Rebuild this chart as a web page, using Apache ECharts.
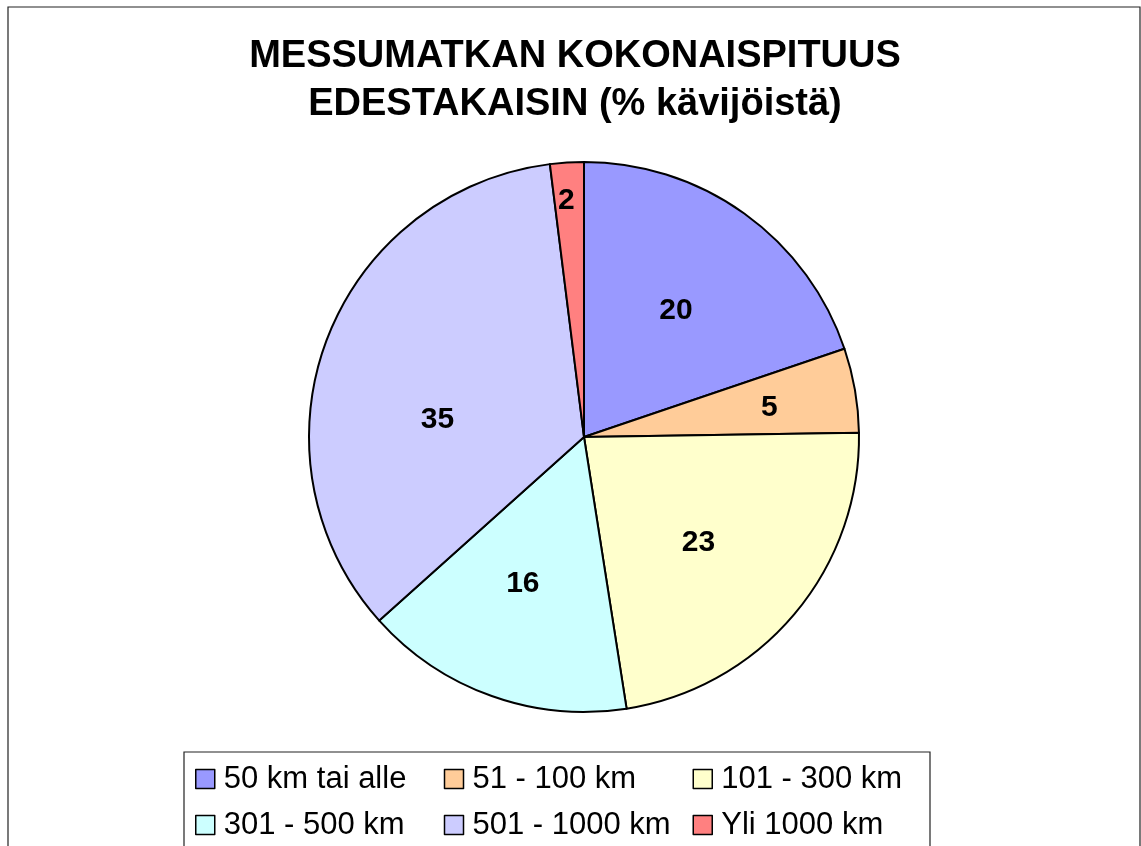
<!DOCTYPE html>
<html>
<head>
<meta charset="utf-8">
<script src="https://cdn.jsdelivr.net/npm/echarts@6/dist/echarts.min.js"></script>
<style>
  html, body { margin: 0; padding: 0; background: #fff; }
  #chart { width: 1141px; height: 846px; }
</style>
</head>
<body>
<div id="chart"></div>
<script>
// ---- data ----
const titleText = 'MESSUMATKAN KOKONAISPITUUS\nEDESTAKAISIN (% kävijöistä)';
const categories = ['50 km tai alle', '51 - 100 km', '101 - 300 km', '301 - 500 km', '501 - 1000 km', 'Yli 1000 km'];
const values = [20, 5, 23, 16, 35, 2];

// ---- styles ----
const sliceColors = ['#9999FF', '#FFCC99', '#FFFFCC', '#CCFFFF', '#CCCCFF', '#FF8080'];
const labelOffsets = [[10, -12], [47, -5], [7, 15], [-14, 14], [-15, 32], [-9, -96]];
const FONT = '"Liberation Sans", Arial, sans-serif';

const chart = echarts.init(document.getElementById('chart'), null, { renderer: 'canvas' });

chart.setOption({
  animation: false,
  backgroundColor: '#ffffff',
  graphic: [
    { type: 'rect', shape: { x: 8, y: 7, width: 1132, height: 900 },
      style: { fill: 'none', stroke: '#222', lineWidth: 1.2 }, silent: true },
    { type: 'rect', shape: { x: 184, y: 752, width: 746, height: 120 },
      style: { fill: 'none', stroke: '#222', lineWidth: 1.2 }, silent: true },
    { type: 'text', x: 575, y: 81,
      style: { text: titleText, font: 'bold 38px ' + FONT, fill: '#000',
               textAlign: 'center', textVerticalAlign: 'middle', lineHeight: 48 } }
  ],
  legend: {
    left: 195, top: 756, width: 750,
    orient: 'horizontal',
    padding: 0, itemGap: 0,
    itemWidth: 19, itemHeight: 19,
    icon: 'rect',
    itemStyle: { borderColor: '#000', borderWidth: 1.5 },
    textStyle: { fontFamily: FONT, fontSize: 31, color: '#000', lineHeight: 46,
                 width: 220, padding: [0, 0, 0, 4] },
    data: categories,
    selectedMode: false
  },
  series: [{
    type: 'pie',
    center: [584, 437],
    radius: 275,
    startAngle: 90,
    clockwise: true,
    avoidLabelOverlap: false,
    emphasis: { disabled: true },
    itemStyle: { borderColor: '#000', borderWidth: 2 },
    label: {
      show: true, position: 'inside', formatter: '{c}',
      fontFamily: FONT, fontSize: 30, fontWeight: 'bold', color: '#000'
    },
    labelLine: { show: false },
    labelLayout: function (params) {
      const o = labelOffsets[params.dataIndex];
      return { dx: o[0], dy: o[1] };
    },
    data: categories.map((c, i) => ({ name: c, value: values[i], itemStyle: { color: sliceColors[i] } }))
  }]
});
</script>
</body>
</html>
